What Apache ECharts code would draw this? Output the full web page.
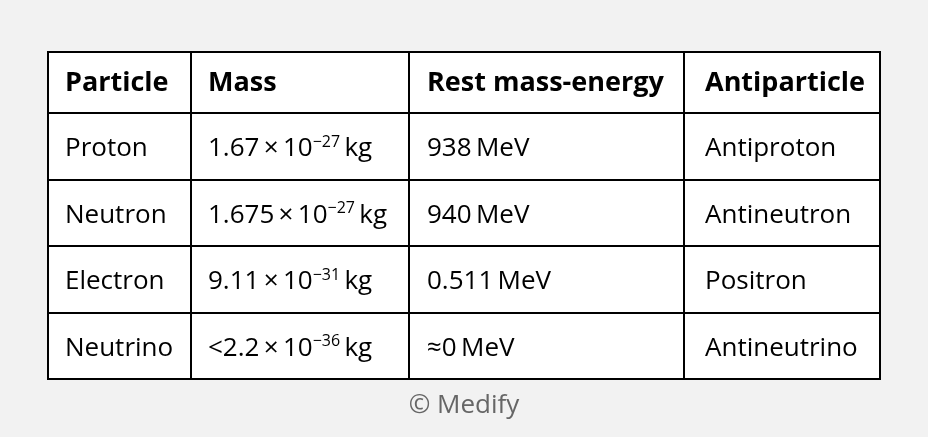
<!DOCTYPE html>
<html><head><meta charset="utf-8">
<script src="https://cdn.jsdelivr.net/npm/echarts@6/dist/echarts.min.js"></script>
<style>html,body{margin:0;padding:0;background:#f2f2f2}#c{width:928px;height:437px}</style>
</head><body><div id="c"></div>
<script>
const headers = ['Particle', 'Mass', 'Rest mass-energy', 'Antiparticle'];
const particles = ['Proton', 'Neutron', 'Electron', 'Neutrino'];
const massMantissa = ['1.67', '1.675', '9.11', '<2.2'];
const massExponent = ['\u221227', '\u221227', '\u221231', '\u221236'];
const restEnergy = ['938\u2009MeV', '940\u2009MeV', '0.511\u2009MeV', '\u22480\u2009MeV'];
const antiparticles = ['Antiproton', 'Antineutron', 'Positron', 'Antineutrino'];

// layout (table geometry in grid units = px)
const colEdges = [0, 143, 361, 636, 832];
const rowEdges = [0, 61, 128, 194, 261, 327];
const colPad = [17, 17, 18, 21];
const FONT = 'Open Sans';

const cells = [];
headers.forEach((h, c) => cells.push({ value: [c, 0], kind: 'head', text: h }));
particles.forEach((p, i) => {
  const r = i + 1;
  cells.push({ value: [0, r], kind: 'plain', text: p });
  cells.push({ value: [1, r], kind: 'mass', text: massMantissa[i], exp: massExponent[i] });
  cells.push({ value: [2, r], kind: 'plain', text: restEnergy[i] });
  cells.push({ value: [3, r], kind: 'plain', text: antiparticles[i] });
});

const chart = echarts.init(document.getElementById('c'));
chart.setOption({
  backgroundColor: '#f2f2f2',
  animation: false,
  grid: { left: 48, top: 52, width: 832, height: 327 },
  xAxis: { type: 'value', min: 0, max: 832, show: false },
  yAxis: { type: 'value', min: 0, max: 327, inverse: true, show: false },
  graphic: [{
    type: 'text', left: 'center', top: 393,
    style: { text: '\u00A9 Medify', fill: '#666666', font: '26px "' + FONT + '"' }
  }],
  series: [{
    type: 'custom',
    coordinateSystem: 'cartesian2d',
    data: cells,
    renderItem: function (params, api) {
      const d = cells[params.dataIndex];
      const c = d.value[0], r = d.value[1];
      const p0 = api.coord([colEdges[c], rowEdges[r]]);
      const p1 = api.coord([colEdges[c + 1], rowEdges[r + 1]]);
      const cy = (p0[1] + p1[1]) / 2 + (d.kind === 'head' ? 1 : 2.5);
      let textStyle;
      if (d.kind === 'mass') {
        textStyle = {
          text: '{n|' + d.text + '\u2009\u00D7\u200910}{s|' + d.exp + '}{n|\u2009kg}',
          rich: {
            n: { fontSize: 26, fontFamily: FONT, fill: '#000', lineHeight: 30, verticalAlign: 'middle' },
            s: { fontSize: 16, fontFamily: FONT, fill: '#000', lineHeight: 16, verticalAlign: 'top' }
          }
        };
      } else {
        textStyle = {
          text: d.text,
          fill: '#000',
          fontSize: d.kind === 'head' ? 27 : 26,
          fontFamily: FONT,
          fontWeight: d.kind === 'head' ? 'bold' : 'normal'
        };
      }
      textStyle.x = p0[0] + colPad[c];
      textStyle.y = cy;
      textStyle.verticalAlign = 'middle';
      textStyle.align = 'left';
      return {
        type: 'group',
        children: [
          { type: 'rect', shape: { x: p0[0], y: p0[1], width: p1[0] - p0[0], height: p1[1] - p0[1] },
            style: { fill: '#fff', stroke: '#000', lineWidth: 2 } },
          { type: 'text', style: textStyle }
        ]
      };
    }
  }]
});
</script></body></html>
